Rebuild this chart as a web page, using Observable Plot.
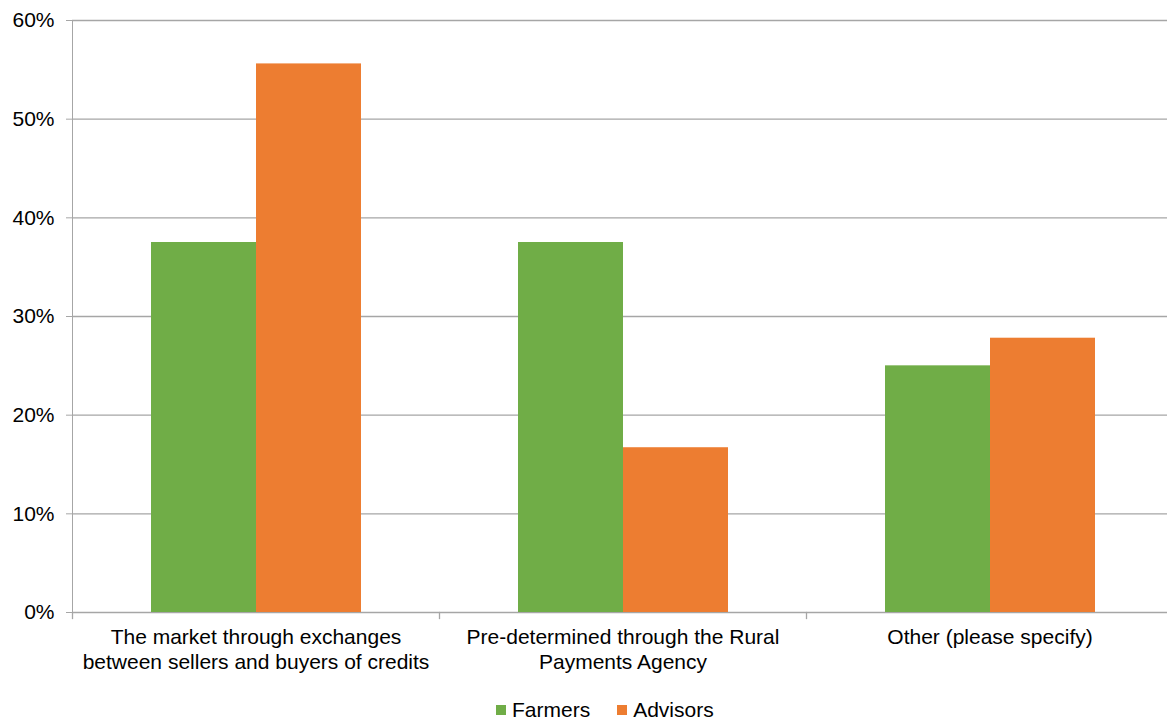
<!DOCTYPE html>
<html>
<head>
<meta charset="utf-8">
<script src="https://cdn.jsdelivr.net/npm/d3@7"></script>
<script src="https://cdn.jsdelivr.net/npm/@observablehq/plot@0.6"></script>
<style>
  html, body { margin: 0; padding: 0; background: #fff; overflow: hidden; width: 1167px; height: 719px; }
  #chart > svg { display: block; max-width: none !important; }
  #chart > svg text { fill: #000; }
  .legend-wrap { margin-top: 8px; padding-left: 496px; }
  .legend-wrap span > svg { margin-right: 6px !important; }
  .legend-wrap span { margin-right: 27px !important; }
</style>
</head>
<body>
<div id="chart"></div>
<script>
const categories = [
  "The market through exchanges\nbetween sellers and buyers of credits",
  "Pre-determined through the Rural\nPayments Agency",
  "Other (please specify)"
];
const series = ["Farmers", "Advisors"];
const farmers = [0.375, 0.375, 0.25];
const advisors = [0.556, 0.167, 0.278];
const yTicks = [0, 0.1, 0.2, 0.3, 0.4, 0.5, 0.6];
const colors = ["#70AD47", "#ED7D31"];

const data = [];
categories.forEach((c, i) => {
  data.push({category: c, series: "Farmers", value: farmers[i]});
  data.push({category: c, series: "Advisors", value: advisors[i]});
});

const W = 1173, H = 685, mTop = 20, mBottom = 73, mLeft = 71, mRight = 0;
const innerH = H - mTop - mBottom;
const font = "'Liberation Sans', Arial, sans-serif";
const gridColor = "#a6a6a6";

const chart = Plot.plot({
  width: W,
  height: H,
  marginTop: mTop,
  marginBottom: mBottom,
  marginLeft: mLeft,
  marginRight: mRight,
  style: {fontSize: "21px", fontFamily: font, color: gridColor, background: "#fff", overflow: "visible", maxWidth: "none"},
  fx: {domain: categories, padding: 0, axis: null},
  x: {domain: series, paddingInner: 0, paddingOuter: 0.74, axis: null},
  y: {domain: [0, 0.6], ticks: yTicks, tickFormat: d3.format(".0%"), tickSize: 6, tickPadding: 12, line: true, label: null},
  color: {domain: series, range: colors},
  marks: [
    Plot.ruleY(yTicks, {stroke: gridColor, strokeWidth: 1.3}),
    Plot.barY(data, {fx: "category", x: "series", y: "value", fill: "series"}),
    Plot.frame({anchor: "left", stroke: gridColor, strokeWidth: 1.3, insetTop: innerH, insetBottom: -6}),
    Plot.text(categories, {fx: d => d, text: d => d, frameAnchor: "bottom", lineAnchor: "top", dy: 14, lineHeight: 1.19, fontSize: 21, fill: "#000"})
  ]
});

const legend = Plot.legend({
  color: {domain: series, range: colors},
  swatchSize: 10,
  style: {fontSize: "21px", fontFamily: font, color: "#000"}
});
const wrap = document.createElement("div");
wrap.className = "legend-wrap";
wrap.appendChild(legend);

const root = document.getElementById("chart");
root.appendChild(chart);
root.appendChild(wrap);
</script>
</body>
</html>
